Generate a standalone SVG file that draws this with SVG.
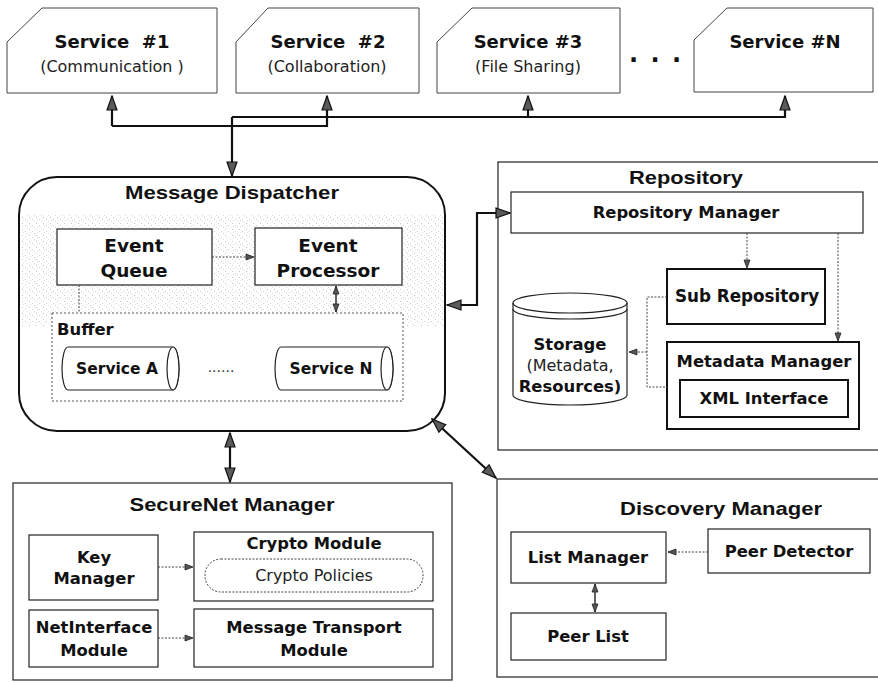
<svg xmlns="http://www.w3.org/2000/svg" width="878" height="683" viewBox="0 0 878 683">
  <style>
    .box { fill: #fff; stroke: #222; stroke-width: 1.2; }
    .thin { fill: #fff; stroke: #444; stroke-width: 1; }
    .bold-box { fill: #fff; stroke: #111; stroke-width: 2; }
    .dash-box { fill: #fff; stroke: #555; stroke-width: 1; stroke-dasharray: 2 2; }
    .title { font-family: "Liberation Sans", Arial, sans-serif; font-weight: bold; font-size: 19px; fill: #111; text-anchor: middle; }
    .lbl { font-family: "DejaVu Sans", Verdana, sans-serif; font-weight: bold; font-size: 16.4px; fill: #111; text-anchor: middle; }
    .lbl-r { font-family: "DejaVu Sans", Verdana, sans-serif; font-size: 16px; fill: #222; text-anchor: middle; }
    .big { font-size: 18px; }
    .link { fill: none; stroke: #111; stroke-width: 2.2; }
    .dot-link { fill: none; stroke: #444; stroke-width: 1; stroke-dasharray: 2 1.5; }
    .fine-link { fill: none; stroke: #222; stroke-width: 1.4; }
  </style>
  <defs>
    <marker id="head" viewBox="0 0 16 12" refX="15" refY="6" markerWidth="16" markerHeight="12" markerUnits="userSpaceOnUse" orient="auto-start-reverse">
      <path d="M1,1 L15,6 L1,11 Z" fill="#5a5a5a" stroke="#111" stroke-width="1.2"/>
    </marker>
    <marker id="tip" viewBox="0 0 10 8" refX="9" refY="4" markerWidth="10" markerHeight="8" markerUnits="userSpaceOnUse" orient="auto-start-reverse">
      <path d="M1,1 L9,4 L1,7 Z" fill="#555" stroke="#222" stroke-width="0.8"/>
    </marker>
    <pattern id="speckle" width="7" height="6" patternUnits="userSpaceOnUse">
      <rect x="1" y="1" width="1" height="1" fill="#999"/>
      <rect x="4" y="3" width="1" height="1" fill="#aaa"/>
      <rect x="6" y="5" width="1" height="1" fill="#bbb"/>
      <rect x="2" y="4" width="1" height="1" fill="#c4c4c4"/>
    </pattern>
  </defs>

  <!-- service row -->
  <g id="service-1">
    <path class="thin" d="M7,42 L42,8 H217 V93 H7 Z"/>
    <text class="lbl big" x="112" y="48" xml:space="preserve">Service  #1</text>
    <text class="lbl-r" x="112" y="72">(Communication )</text>
  </g>
  <g id="service-2">
    <path class="thin" d="M236,42 L268,8 H419 V93 H236 Z"/>
    <text class="lbl big" x="328" y="48" xml:space="preserve">Service  #2</text>
    <text class="lbl-r" x="327" y="72">(Collaboration)</text>
  </g>
  <g id="service-3">
    <path class="thin" d="M437,42 L472,8 H620 V93 H437 Z"/>
    <text class="lbl big" x="528" y="48">Service #3</text>
    <text class="lbl-r" x="528" y="72">(File Sharing)</text>
  </g>
  <text class="lbl" x="656" y="62" style="font-size:24px;letter-spacing:2px" xml:space="preserve">. . .</text>
  <g id="service-n">
    <path class="thin" d="M694,40 L727,8 H873 V92 H694 Z"/>
    <text class="lbl big" x="785" y="48">Service #N</text>
  </g>

  <!-- message dispatcher -->
  <g id="message-dispatcher">
    <rect x="19" y="177" width="426" height="254" rx="38" fill="#fff" stroke="#111" stroke-width="2"/>
    <rect x="22" y="215" width="421" height="112" fill="url(#speckle)" opacity="0.55"/>
    <text class="title" x="232" y="199" textLength="214" lengthAdjust="spacingAndGlyphs">Message Dispatcher</text>
  </g>
  <g id="event-queue">
    <rect class="box" x="57" y="229" width="155" height="56"/>
    <text class="lbl" x="134" y="252" style="font-size:18.5px">Event</text>
    <text class="lbl" x="134" y="277" style="font-size:18.5px">Queue</text>
  </g>
  <g id="event-processor">
    <rect class="box" x="255" y="228" width="147" height="57"/>
    <text class="lbl" x="328" y="252" style="font-size:18.5px">Event</text>
    <text class="lbl" x="328" y="277" style="font-size:18.5px">Processor</text>
  </g>
  <g id="buffer">
    <rect class="dash-box" x="52" y="313" width="351" height="88"/>
    <text class="lbl" x="57" y="335" style="text-anchor:start">Buffer</text>
  </g>
  <g id="service-a">
    <path class="box" d="M68,347 H173 A6,21.5 0 0 1 173,390 H68 A6,21.5 0 0 1 68,347 Z"/>
    <ellipse cx="173" cy="368.5" rx="6" ry="21.5" fill="#fff" stroke="#222" stroke-width="1.2"/>
    <text class="lbl" x="117" y="374" style="font-size:15.5px">Service A</text>
  </g>
  <text x="221" y="372" style="font-family:'DejaVu Sans',sans-serif;font-size:14px;fill:#333;text-anchor:middle">......</text>
  <g id="service-n-queue">
    <path class="box" d="M281,347 H387 A6,21.5 0 0 1 387,390 H281 A6,21.5 0 0 1 281,347 Z"/>
    <ellipse cx="387" cy="368.5" rx="6" ry="21.5" fill="#fff" stroke="#222" stroke-width="1.2"/>
    <text class="lbl" x="331" y="374" style="font-size:15.5px">Service N</text>
  </g>

  <!-- repository -->
  <g id="repository">
    <rect class="box" x="498" y="162" width="385" height="288"/>
    <text class="title" x="686" y="184" textLength="114" lengthAdjust="spacingAndGlyphs">Repository</text>
  </g>
  <g id="repository-manager">
    <rect class="box" x="511" y="192" width="352" height="41"/>
    <text class="lbl" x="686" y="218">Repository Manager</text>
  </g>
  <g id="sub-repository">
    <rect class="bold-box" x="667" y="269" width="158" height="55"/>
    <text class="lbl" x="747" y="302" style="font-size:16.8px">Sub Repository</text>
  </g>
  <g id="storage">
    <path class="box" d="M513,303 A57,10 0 0 1 627,303 V395 A57,10 0 0 1 513,395 Z"/>
    <path d="M513,303 A57,10 0 0 0 627,303" fill="none" stroke="#222" stroke-width="1.2"/>
    <path d="M513,309 A57,10 0 0 0 627,309" fill="none" stroke="#222" stroke-width="1.2"/>
    <text class="lbl" x="570" y="350">Storage</text>
    <text class="lbl-r" x="570" y="371">(Metadata,</text>
    <text class="lbl" x="570" y="392">Resources)</text>
  </g>
  <g id="metadata-manager">
    <rect class="bold-box" x="667" y="342" width="192" height="87"/>
    <text class="lbl" x="764" y="367">Metadata Manager</text>
  </g>
  <g id="xml-interface">
    <rect class="bold-box" x="680" y="380" width="168" height="37"/>
    <text class="lbl" x="764" y="404">XML Interface</text>
  </g>

  <!-- securenet manager -->
  <g id="securenet-manager">
    <rect class="box" x="13" y="483" width="439" height="197" stroke-width="1.6"/>
    <text class="title" x="232" y="511" textLength="205" lengthAdjust="spacingAndGlyphs">SecureNet Manager</text>
  </g>
  <g id="key-manager">
    <rect class="box" x="29" y="535" width="129" height="65"/>
    <text class="lbl" x="94" y="563">Key</text>
    <text class="lbl" x="94" y="584">Manager</text>
  </g>
  <g id="crypto-module">
    <rect class="box" x="194" y="532" width="239" height="69"/>
    <text class="lbl" x="314" y="549">Crypto Module</text>
    <rect x="205" y="559" width="218" height="33" rx="16" fill="#fff" stroke="#444" stroke-width="1" stroke-dasharray="2 1.5"/>
    <text class="lbl-r" x="314" y="581">Crypto Policies</text>
  </g>
  <g id="netinterface-module">
    <rect class="box" x="29" y="610" width="129" height="57"/>
    <text class="lbl" x="94" y="633">NetInterface</text>
    <text class="lbl" x="94" y="656">Module</text>
  </g>
  <g id="message-transport-module">
    <rect class="box" x="194" y="609" width="239" height="58"/>
    <text class="lbl" x="314" y="633">Message Transport</text>
    <text class="lbl" x="314" y="656">Module</text>
  </g>

  <!-- discovery manager -->
  <g id="discovery-manager">
    <rect class="box" x="497" y="479" width="386" height="198" stroke-width="1.6"/>
    <text class="title" x="721" y="515" textLength="202" lengthAdjust="spacingAndGlyphs">Discovery Manager</text>
  </g>
  <g id="list-manager">
    <rect class="box" x="511" y="532" width="155" height="51"/>
    <text class="lbl" x="588" y="563">List Manager</text>
  </g>
  <g id="peer-detector">
    <rect class="box" x="708" y="529" width="162" height="44"/>
    <text class="lbl" x="789" y="557">Peer Detector</text>
  </g>
  <g id="peer-list">
    <rect class="box" x="511" y="613" width="155" height="47"/>
    <text class="lbl" x="588" y="642">Peer List</text>
  </g>

  <!-- connectors -->
  <g id="connectors">
    <path class="link" d="M112,126 V96" marker-end="url(#head)"/>
    <path class="link" d="M112,126 H327 V96" marker-end="url(#head)"/>
    <path class="link" d="M232,117 H785 V96" marker-end="url(#head)"/>
    <path class="link" d="M528,117 V96" marker-end="url(#head)"/>
    <path class="link" d="M232,117 V176" marker-end="url(#head)"/>
    <path class="link" d="M447,305 H477 V213 H510" marker-start="url(#head)" marker-end="url(#head)"/>
    <path class="link" d="M230,433 V482" marker-start="url(#head)" marker-end="url(#head)"/>
    <path class="link" d="M432,419 L496,478" marker-start="url(#head)" marker-end="url(#head)"/>

    <path class="dot-link" d="M212,257 H254" marker-end="url(#tip)"/>
    <path class="fine-link" d="M336,286 V312" marker-start="url(#tip)" marker-end="url(#tip)"/>
    <path class="dot-link" d="M79,285 V313"/>

    <path class="dot-link" d="M747,233 V268" marker-end="url(#tip)"/>
    <path class="dot-link" d="M838,233 V341" marker-end="url(#tip)"/>
    <path class="dot-link" d="M667,297 H647 V387 H667"/>
    <path class="dot-link" d="M647,352 H629" marker-end="url(#tip)"/>

    <path class="dot-link" d="M158,567 H193" marker-end="url(#tip)"/>
    <path class="dot-link" d="M158,638 H193" marker-end="url(#tip)"/>

    <path class="dot-link" d="M708,552 H668" marker-end="url(#tip)"/>
    <path class="fine-link" d="M595,584 V612" marker-start="url(#tip)" marker-end="url(#tip)"/>
  </g>
</svg>
